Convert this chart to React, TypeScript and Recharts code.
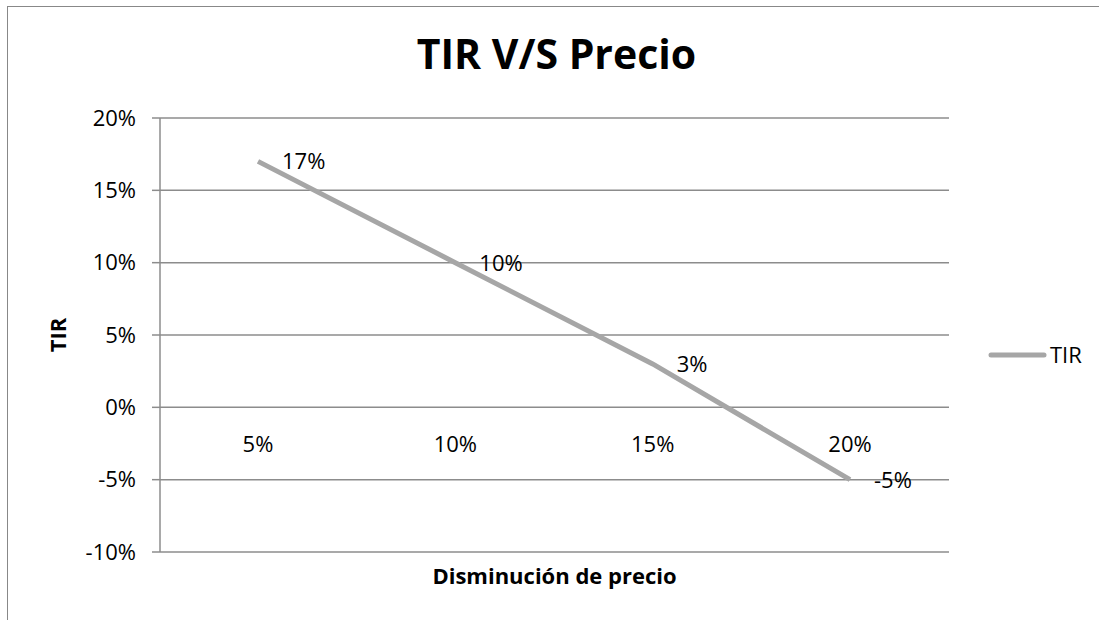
import React from 'react';
import { LineChart, Line, XAxis, YAxis, CartesianGrid, Legend, LabelList } from 'recharts';

const categories = ['5%', '10%', '15%', '20%'];
const tirValues = [0.17, 0.10, 0.03, -0.05];
const yTicks = [-0.1, -0.05, 0, 0.05, 0.1, 0.15, 0.2];
const seriesName = 'TIR';

const data = categories.map((c, i) => ({ cat: c, TIR: tirValues[i] }));

const FONT = '"Open Sans", Lato, sans-serif';
const GRID = '#8c8c8c';
const LINE = '#a6a6a6';
const FS = 22;

const pct = (v: number) => `${Math.round(v * 100)}%`;

const XTick = (props: any) => {
  const { x, y, payload } = props;
  return (
    <text x={x} y={y - 100} textAnchor="middle" fontSize={FS} fill="#000" fontFamily={FONT}>
      {payload.value}
    </text>
  );
};

const DataLabel = (props: any) => {
  const { x, y, value } = props;
  return (
    <text x={x + 24} y={y + 8} textAnchor="start" fontSize={FS} fill="#000" fontFamily={FONT}>
      {pct(value)}
    </text>
  );
};

const LegendContent = () => (
  <svg width={100} height={30} style={{ overflow: 'visible' }}>
    <line x1={2} y1={15} x2={55} y2={15} stroke={LINE} strokeWidth={5} strokeLinecap="round" />
    <text x={61} y={23} fontSize={FS} fontFamily={FONT} fill="#000">{seriesName}</text>
  </svg>
);

export default function App() {
  return (
    <div style={{ position: 'absolute', left: 0, top: 0, width: 1099, height: 620, overflow: 'hidden', background: '#fff' }}>
      <div style={{ position: 'absolute', left: 7, top: 6, width: 1200, height: 700, borderLeft: '1.5px solid #888', borderTop: '1.5px solid #888' }} />
      <div style={{ position: 'absolute', left: 0, width: 1113, top: 25, textAlign: 'center', fontFamily: FONT, fontWeight: 700, fontSize: 41, color: '#000' }}>
        TIR V/S Precio
      </div>
      <div style={{ position: 'absolute', left: 0, top: 0 }}>
        <LineChart width={1099} height={620} data={data} margin={{ top: 118, right: 40, bottom: 38, left: 60 }}>
          <CartesianGrid vertical={false} stroke={GRID} strokeWidth={1.5} />
          <XAxis
            dataKey="cat"
            axisLine={false}
            tickLine={false}
            tickSize={0}
            tickMargin={0}
            height={30}
            padding={{ left: 98, right: 99 }}
            tick={<XTick />}
            label={{
              content: (p: any) => {
                const vb = p.viewBox;
                return (
                  <text x={vb.x + vb.width / 2} y={vb.y + 32} textAnchor="middle" fontSize={FS} fontWeight={700} fontFamily={FONT} fill="#000">
                    Disminución de precio
                  </text>
                );
              },
            }}
          />
          <YAxis
            width={100}
            domain={[-0.1, 0.2]}
            ticks={yTicks}
            tickFormatter={pct}
            interval={0}
            axisLine={{ stroke: GRID, strokeWidth: 1.5 }}
            tickLine={{ stroke: GRID, strokeWidth: 1.5 }}
            tickSize={8}
            tickMargin={16}
            tick={{ fontSize: FS, fill: '#000', fontFamily: FONT }}
            label={{
              content: (p: any) => {
                const vb = p.viewBox;
                const cx = vb.x - 3;
                const cy = vb.y + vb.height / 2;
                return (
                  <text x={cx} y={cy} transform={`rotate(-90 ${cx} ${cy})`} textAnchor="middle" dominantBaseline="central" fontSize={FS} fontWeight={700} fontFamily={FONT} fill="#000">
                    TIR
                  </text>
                );
              },
            }}
          />
          <Legend layout="vertical" align="right" verticalAlign="middle" content={<LegendContent />} wrapperStyle={{ right: 0, width: 110, top: 340 }} />
          <Line
            type="linear"
            dataKey="TIR"
            name={seriesName}
            stroke={LINE}
            strokeWidth={5}
            dot={false}
            isAnimationActive={false}
          >
            <LabelList dataKey="TIR" content={<DataLabel />} />
          </Line>
        </LineChart>
      </div>
    </div>
  );
}
